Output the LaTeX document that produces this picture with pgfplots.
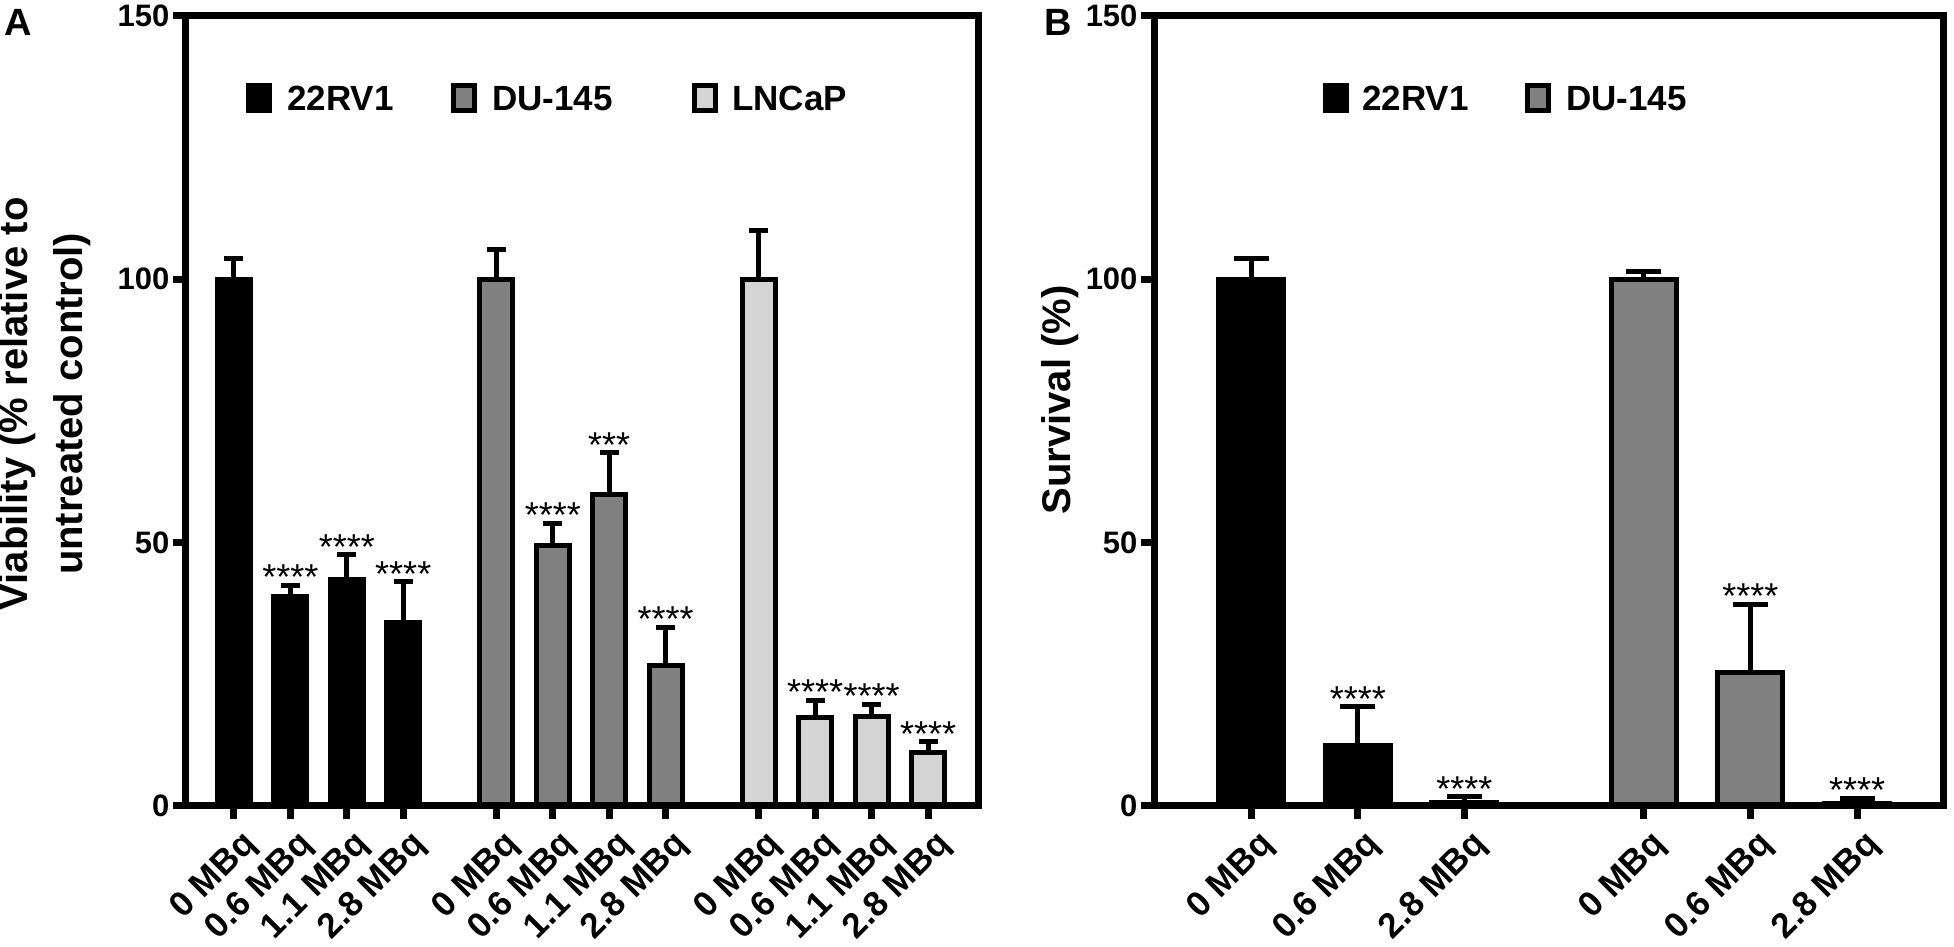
\documentclass[border=0pt]{standalone}
\usepackage{fontspec}
\setmainfont{Liberation Sans}
\usepackage{pgfplots}
\pgfplotsset{compat=1.18}
\definecolor{dugray}{RGB}{128,128,128}
\definecolor{lngray}{RGB}{212,212,212}
\newcommand{\tickfont}{\fontsize{31}{36}\selectfont\bfseries}
\newcommand{\xtickfont}{\fontsize{35}{40}\selectfont\bfseries}
\newcommand{\labfont}{\fontsize{40}{55}\selectfont\bfseries}
\newcommand{\legfont}{\fontsize{35}{40}\selectfont\bfseries}
\newcommand{\starfont}{\fontsize{36}{40}\selectfont}
\pgfplotsset{
  panel/.style={
    scale only axis, axis on top, clip=false,
    ymin=0, ymax=150, ytick={0,50,100,150},
    enlargelimits=false,
    axis line style={line width=7pt, black},
    major tick style={line width=7pt, black},
    major tick length=13pt,
    tick align=outside,
    xtick pos=bottom, ytick pos=left,
    tick label style={black},
    yticklabel style={font=\tickfont},
    /pgf/number format/assume math mode=true,
    xticklabel style={font=\xtickfont, xshift=6pt, yshift=-9pt, rotate=45, anchor=north east, inner sep=0pt},
    ylabel style={font=\labfont, align=center, anchor=center},
  },
  bars/.style 2 args={ybar, bar shift=0pt, bar width=#1, line width=5pt, draw=black,
    error bars/y dir=plus, error bars/y explicit,
    error bars/error mark=|,
    error bars/error bar style={line width=5pt, black},
    error bars/error mark options={line width=5pt, black, mark size=#2}},
  stars/.style={draw=none, forget plot, nodes near coords, point meta=explicit symbolic,
    nodes near coords style={font=\starfont, anchor=base, inner sep=0pt, yshift=-4.5pt, black}},
}
\newcommand{\legsq}[3]{% x_left, y_center (tikz), colour
  \draw[line width=5pt, fill=#3, draw=black] (#1+2.5,#2-12.5) rectangle (#1+23.5,#2+12.5);}
\begin{document}
\begin{tikzpicture}[x=1pt,y=1pt]
\useasboundingbox (0,0) rectangle (1954,947);
% ---------------- Panel A ----------------
\begin{axis}[panel, at={(186pt,141pt)}, anchor=south west, width=792pt, height=790pt,
  xmin=-0.85, xmax=13.185,
  xtick={0,1,2,3,4.65,5.65,6.65,7.65,9.3,10.3,11.3,12.3},
  xticklabels={0 MBq,0.6 MBq,1.1 MBq,2.8 MBq,0 MBq,0.6 MBq,1.1 MBq,2.8 MBq,0 MBq,0.6 MBq,1.1 MBq,2.8 MBq},
  ylabel={Viability (\% relative to\\untreated control)},
  ylabel style={at={(axis description cs:-0.178,0.509)}},
]
\addplot[fill=black, bars={33pt}{9.5pt}] coordinates {
  (0,100) +- (0,4.0)
  (1,39.7) +- (0,2.2)
  (2,43.1) +- (0,4.6)
  (3,34.8) +- (0,7.8)
};
\addplot[fill=dugray, bars={33pt}{9.5pt}] coordinates {
  (4.65,100) +- (0,5.6)
  (5.65,49.4) +- (0,4.3)
  (6.65,59.2) +- (0,7.9)
  (7.65,26.7) +- (0,7.2)
};
\addplot[fill=lngray, bars={33pt}{9.5pt}] coordinates {
  (9.3,100) +- (0,9.3)
  (10.3,16.8) +- (0,3.3)
  (11.3,17.0) +- (0,2.3)
  (12.3,10.2) +- (0,2.0)
};
\addplot[stars] coordinates {
  (1,41.9) [****]
  (2,47.7) [****]
  (3,42.6) [****]
  (5.65,53.7) [****]
  (6.65,67.1) [***]
  (7.65,33.9) [****]
  (10.3,20.1) [****]
  (11.3,19.3) [****]
  (12.3,12.2) [****]
};
\end{axis}
% ---------------- Panel B ----------------
\begin{axis}[panel, at={(1154pt,141pt)}, anchor=south west, width=789pt, height=790pt,
  xmin=-0.91, xmax=6.486,
  xtick={0,1,2,3.68,4.68,5.68},
  xticklabels={0 MBq,0.6 MBq,2.8 MBq,0 MBq,0.6 MBq,2.8 MBq},
  ylabel={Survival (\%)},
  ylabel style={at={(axis description cs:-0.119,0.514)}},
]
\addplot[fill=black, bars={65pt}{17.5pt}] coordinates {
  (0,100) +- (0,4.0)
  (1,11.5) +- (0,7.3)
  (2,0.6) +- (0,1.2)
};
\addplot[fill=dugray, bars={65pt}{17.5pt}] coordinates {
  (3.68,100) +- (0,1.5)
  (4.68,25.3) +- (0,13.0)
  (5.68,0.5) +- (0,1.0)
};
\addplot[stars] coordinates {
  (1,18.8) [****]
  (2,1.8) [****]
  (4.68,38.3) [****]
  (5.68,1.5) [****]
};
\end{axis}
% ---------------- Legends and panel letters ----------------
\legsq{246}{849}{black}
\node[font=\legfont, anchor=base west, inner sep=0pt] at (287,836.5) {22RV1};
\legsq{451}{849}{dugray}
\node[font=\legfont, anchor=base west, inner sep=0pt] at (492,836.5) {DU-145};
\legsq{692}{849}{lngray}
\node[font=\legfont, anchor=base west, inner sep=0pt] at (732,836.5) {LNCaP};
\legsq{1323}{849}{black}
\node[font=\legfont, anchor=base west, inner sep=0pt] at (1362,836.5) {22RV1};
\legsq{1525}{849}{dugray}
\node[font=\legfont, anchor=base west, inner sep=0pt] at (1566,836.5) {DU-145};
\node[font=\fontsize{38}{44}\selectfont\bfseries, anchor=base west, inner sep=0pt] at (4,911) {A};
\node[font=\fontsize{38}{44}\selectfont\bfseries, anchor=base west, inner sep=0pt] at (1044,911) {B};
\end{tikzpicture}
\end{document}
